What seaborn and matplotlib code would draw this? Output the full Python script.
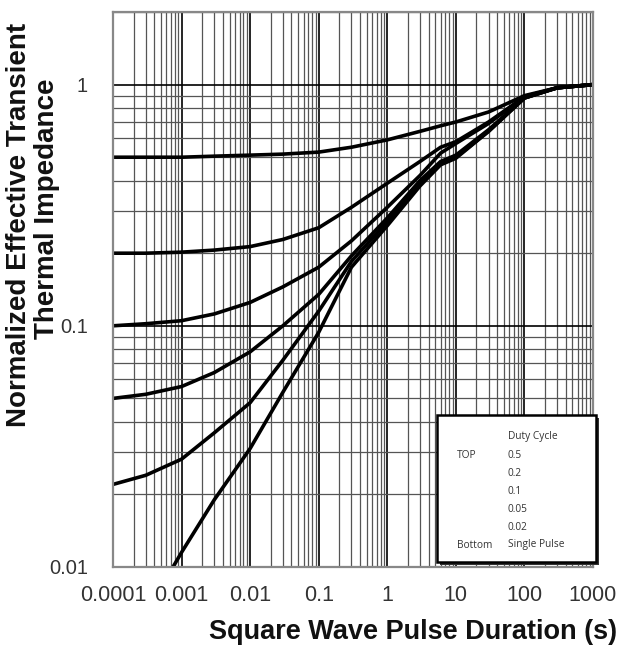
import numpy as np
import pandas as pd
import matplotlib
matplotlib.use("Agg")
import matplotlib.pyplot as plt
import seaborn as sns
from matplotlib.patches import Rectangle
from matplotlib.ticker import LogLocator, NullFormatter

# ---- data ----
x_common = [1e-4, 3e-4, 1e-3, 3e-3, 1e-2, 3e-2, 0.1, 0.3, 1, 3, 6, 10, 30, 100, 300, 1000]
duty_05 = [0.50, 0.50, 0.50, 0.505, 0.51, 0.515, 0.525, 0.55, 0.59, 0.64, 0.675, 0.70, 0.77, 0.90, 0.97, 1.0]
duty_02 = [0.20, 0.20, 0.202, 0.206, 0.213, 0.228, 0.255, 0.31, 0.39, 0.48, 0.55, 0.58, 0.70, 0.89, 0.97, 1.0]
duty_01 = [0.10, 0.102, 0.105, 0.112, 0.125, 0.145, 0.175, 0.225, 0.31, 0.42, 0.52, 0.57, 0.69, 0.89, 0.97, 1.0]
duty_005 = [0.05, 0.052, 0.056, 0.064, 0.078, 0.10, 0.135, 0.195, 0.28, 0.40, 0.48, 0.51, 0.65, 0.88, 0.97, 1.0]
duty_002 = [0.022, 0.024, 0.028, 0.036, 0.048, 0.072, 0.115, 0.185, 0.27, 0.39, 0.47, 0.50, 0.64, 0.88, 0.97, 1.0]
x_single = [7.5e-4, 1e-3, 3e-3, 1e-2, 3e-2, 0.1, 0.3, 1, 3, 6, 10, 30, 100, 300, 1000]
single_pulse = [0.01, 0.0115, 0.019, 0.031, 0.053, 0.094, 0.175, 0.26, 0.38, 0.465, 0.495, 0.64, 0.88, 0.97, 1.0]

series_names = ["0.5", "0.2", "0.1", "0.05", "0.02", "Single Pulse"]
x_ticks = [1e-4, 1e-3, 1e-2, 1e-1, 1, 10, 100, 1000]
x_tick_labels = ["0.0001", "0.001", "0.01", "0.1", "1", "10", "100", "1000"]
y_ticks = [0.01, 0.1, 1]
y_tick_labels = ["0.01", "0.1", "1"]

frames = []
for name, ys in zip(series_names[:5], [duty_05, duty_02, duty_01, duty_005, duty_002]):
    frames.append(pd.DataFrame({"t": x_common, "z": ys, "series": name}))
frames.append(pd.DataFrame({"t": x_single, "z": single_pulse, "series": "Single Pulse"}))
df = pd.concat(frames, ignore_index=True)

sns.set_theme(style="white")
plt.rcParams["font.family"] = ["Liberation Sans", "DejaVu Sans"]

fig = plt.figure(figsize=(6.25, 6.49), dpi=100)
ax = fig.add_axes([113 / 625, 1 - 567 / 649, 480 / 625, 555 / 649])

ax.set_xscale("log")
ax.set_yscale("log")
ax.set_xlim(1e-4, 1e3)
ax.set_ylim(0.01, 2)

# grid
ax.xaxis.set_minor_locator(LogLocator(base=10, subs=np.arange(2, 10), numticks=50))
ax.yaxis.set_minor_locator(LogLocator(base=10, subs=np.arange(2, 10), numticks=50))
ax.xaxis.set_minor_formatter(NullFormatter())
ax.yaxis.set_minor_formatter(NullFormatter())
ax.grid(True, which="major", color="black", linewidth=1.2, zorder=0)
ax.grid(True, which="minor", color="#555555", linewidth=0.9, zorder=0)
ax.set_axisbelow(True)

sns.lineplot(data=df, x="t", y="z", hue="series", units="series", estimator=None,
             palette=["black"] * 6, linewidth=2.6, legend=False, sort=True, ax=ax)

ax.set_xticks(x_ticks)
ax.set_xticklabels(x_tick_labels, fontsize=15.5, color="#333333")
ax.set_yticks(y_ticks)
ax.set_yticklabels(y_tick_labels, fontsize=14.5, color="#333333")
ax.tick_params(axis="both", which="both", length=0)
ax.tick_params(axis="x", pad=13)
ax.tick_params(axis="y", pad=18)
ax.set_xlabel("")
ax.set_ylabel("")

for sp in ax.spines.values():
    sp.set_color("#888888")
    sp.set_linewidth(1.6)

# axis titles
fig.text(413 / 625, 1 - 632 / 649, "Square Wave Pulse Duration (s)", ha="center", va="center",
         fontsize=19.5, fontweight="bold", color="#111111")
fig.text(19 / 625, 1 - 225 / 649, "Normalized Effective Transient", ha="center", va="center",
         rotation=90, fontsize=20, fontweight="bold", color="#111111")
fig.text(47 / 625, 1 - 209 / 649, "Thermal Impedance", ha="center", va="center",
         rotation=90, fontsize=20, fontweight="bold", color="#111111")

# legend box with shadow
bx0, by0, bx1, by1 = 437, 415, 596, 562
W, H = 625, 649
shadow = Rectangle(((bx0 + 3) / W, 1 - (by1 + 3) / H), (bx1 - bx0) / W, (by1 - by0) / H,
                   transform=fig.transFigure, facecolor="#333333", edgecolor="none", zorder=5)
box = Rectangle((bx0 / W, 1 - by1 / H), (bx1 - bx0) / W, (by1 - by0) / H,
                transform=fig.transFigure, facecolor="white", edgecolor="black",
                linewidth=1.8, zorder=6)
fig.add_artist(shadow)
fig.add_artist(box)

lfont = dict(fontsize=7.3, color="#333333", family=["Open Sans", "DejaVu Sans"], zorder=7,
             va="center", ha="left")
fig.text(508 / W, 1 - 437 / H, "Duty Cycle", **lfont)
fig.text(457 / W, 1 - 455 / H, "TOP", **lfont)
rows_y = [455, 473, 491, 509, 527, 545]
for name, yy in zip(series_names, rows_y):
    fig.text(508 / W, 1 - yy / H, name, **lfont)
fig.text(457 / W, 1 - 545 / H, "Bottom", **lfont)

fig.savefig("out.png", dpi=100)
